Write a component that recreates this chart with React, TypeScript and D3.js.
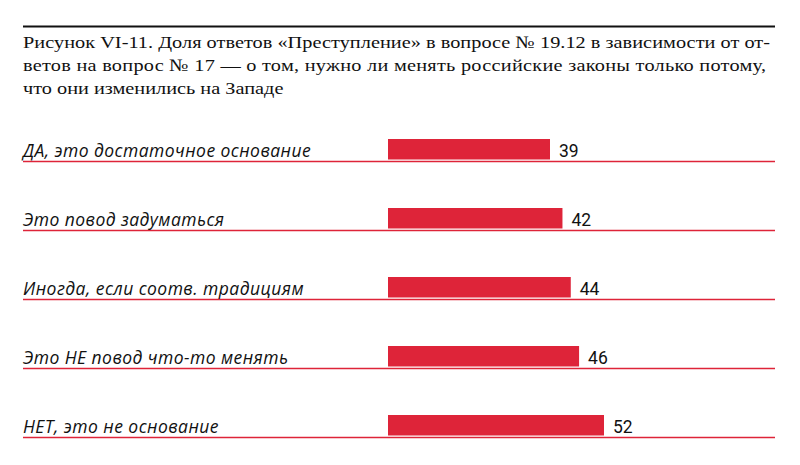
import React, { useEffect, useRef } from "react";
import * as d3 from "d3";

const categories = [
  "ДА, это достаточное основание",
  "Это повод задуматься",
  "Иногда, если соотв. традициям",
  "Это НЕ повод что-то менять",
  "НЕТ, это не основание",
];
const values = [39, 42, 44, 46, 52];
const titleLines = [
  "Рисунок VI-11. Доля ответов «Преступление» в вопросе № 19.12 в зависимости от от-",
  "ветов на вопрос № 17 — о том, нужно ли менять российские законы только потому,",
  "что они изменились на Западе",
];

const W = 800;
const H = 465;
const RED = "#de2439";

const App = () => {
  const svgRef = useRef<SVGSVGElement>(null);

  useEffect(() => {
    const svg = d3.select(svgRef.current);
    svg.selectAll("*").remove();

    const left = 23;
    const right = 775;
    const sx = 1.16; // the original serif is wider than Liberation Serif

    // top rule
    svg
      .append("line")
      .attr("x1", left)
      .attr("x2", right)
      .attr("y1", 26.5)
      .attr("y2", 26.5)
      .attr("stroke", "#111")
      .attr("stroke-width", 2);

    // title, first two lines justified
    const lineLen = [747, 743, null];
    svg
      .append("g")
      .attr("transform", `translate(${left},0) scale(${sx},1)`)
      .selectAll("text")
      .data(titleLines)
      .enter()
      .append("text")
      .attr("x", 0)
      .attr("y", (d, i) => 48 + i * 23)
      .attr("font-family", "'Liberation Serif', serif")
      .attr("font-size", 17.5)
      .attr("fill", "#111")
      .attr("textLength", (d, i) => (lineLen[i] ? lineLen[i] / sx : null))
      .attr("lengthAdjust", "spacing")
      .text((d) => d);

    const x = d3.scaleLinear().domain([0, 52]).range([388, 604]);
    const y = d3
      .scaleBand()
      .domain(categories)
      .range([139, 139 + 69 * 5]);
    const barH = 20.5;

    const rows = svg
      .selectAll("g.row")
      .data(categories)
      .enter()
      .append("g")
      .attr("class", "row")
      .attr("transform", (d) => `translate(0,${y(d)})`);

    rows
      .append("line")
      .attr("x1", left)
      .attr("x2", right)
      .attr("y1", barH + 2)
      .attr("y2", barH + 2)
      .attr("stroke", RED)
      .attr("stroke-width", 1.5);

    rows
      .append("rect")
      .attr("x", x(0))
      .attr("y", 0)
      .attr("width", (d, i) => x(values[i]) - x(0))
      .attr("height", barH)
      .attr("fill", RED);

    rows
      .append("text")
      .attr("x", left)
      .attr("y", barH - 3)
      .attr("font-family", "'Open Sans', sans-serif")
      .attr("font-style", "italic")
      .attr("font-size", 17.5)
      .attr("letter-spacing", 0.45)
      .attr("fill", "#111")
      .text((d) => d);

    rows
      .append("text")
      .attr("x", (d, i) => x(values[i]) + 9)
      .attr("y", barH - 3)
      .attr("font-family", "Roboto, sans-serif")
      .attr("font-size", 17.5)
      .attr("fill", "#111")
      .text((d, i) => values[i]);
  }, []);

  return <svg ref={svgRef} width={W} height={H} style={{ position: "absolute", left: 0, top: 0 }} />;
};

export default App;
